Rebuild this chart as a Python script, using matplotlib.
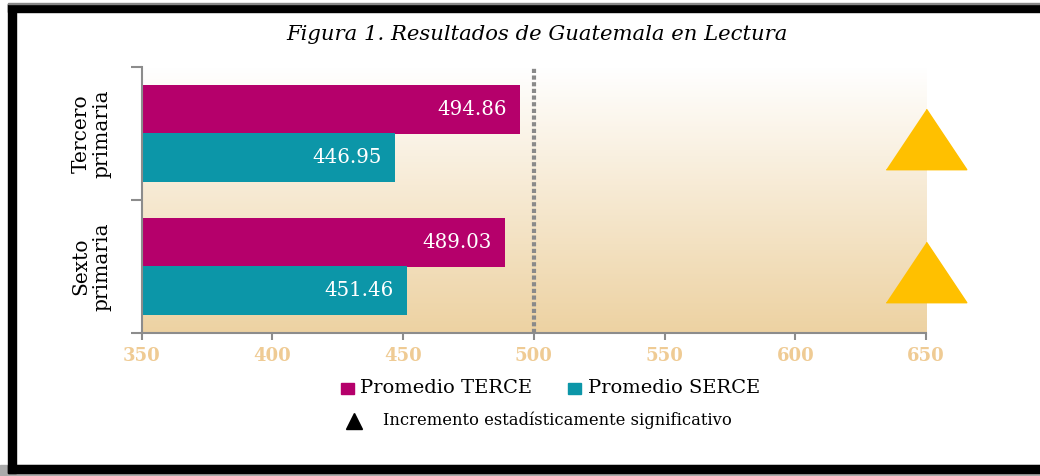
import matplotlib
matplotlib.use("Agg")
import matplotlib.pyplot as plt
import numpy as np
from matplotlib.patches import Rectangle
from matplotlib.colors import LinearSegmentedColormap

# ---- data ----
categories = ["Tercero\nprimaria", "Sexto\nprimaria"]
terce = [494.86, 489.03]
serce = [446.95, 451.46]
significant = [True, True]
series_names = ["Promedio TERCE", "Promedio SERCE"]
xticks = [350, 400, 450, 500, 550, 600, 650]
reference_line = 500
title = "Figura 1. Resultados de Guatemala en Lectura"
note = "Incremento estadísticamente significativo"

c_terce = "#B5006B"
c_serce = "#0C96A8"
c_tri = "#FFC000"
c_tick = "#EFCB94"
serif = ["DejaVu Serif", "Liberation Serif"]

W, H = 1040, 476
fig = plt.figure(figsize=(W / 100, H / 100), dpi=100)

def fx(px):
    return px / W

def fy(py):
    return 1 - py / H

# frame
fig.patches.append(Rectangle((0, fy(476)), 1, fy(465) - fy(476), transform=fig.transFigure, color="#AAAAAA", zorder=0))
fig.patches.append(Rectangle((fx(8), fy(473)), 1 - fx(8), fy(465) - fy(473), transform=fig.transFigure, color="black", zorder=1))
fig.patches.append(Rectangle((fx(8), fy(12)), 1 - fx(8), fy(4) - fy(12), transform=fig.transFigure, color="black", zorder=1))
fig.patches.append(Rectangle((fx(8), fy(473)), fx(16) - fx(8), fy(4) - fy(473), transform=fig.transFigure, color="black", zorder=1))
fig.patches.append(Rectangle((fx(8), fy(4)), 1 - fx(8), fy(3) - fy(4), transform=fig.transFigure, color="#888888", zorder=1))

left, right, top, bottom = 141.7, 926, 67, 333
ax = fig.add_axes([fx(left), fy(bottom), fx(right) - fx(left), fy(top) - fy(bottom)])

n = len(categories)
centers = np.arange(n)[::-1] + 0.5  # Tercero at top
bh = 0.365

# gradient background (white at top, tan at bottom)
cmap = LinearSegmentedColormap.from_list("bg", ["#FFFFFF", "#EDD2A2"])
grad = np.linspace(1, 0, 256).reshape(-1, 1)
ax.imshow(grad, extent=[xticks[0], xticks[-1], 0, n], aspect="auto", cmap=cmap,
          vmin=0, vmax=1, zorder=0, origin="lower")

ax.barh(centers + bh / 2, terce, height=bh, left=0, color=c_terce, zorder=2)
ax.barh(centers - bh / 2, serce, height=bh, left=0, color=c_serce, zorder=2)
ax.set_xlim(xticks[0], xticks[-1])
ax.set_ylim(0, n)

for c, t, s in zip(centers, terce, serce):
    ax.text(t - 5, c + bh / 2, f"{t:.2f}", ha="right", va="center", color="white",
            fontsize=14.2, family=serif, zorder=3)
    ax.text(s - 5, c - bh / 2, f"{s:.2f}", ha="right", va="center", color="white",
            fontsize=14.2, family=serif, zorder=3)

ax.axvline(reference_line, color="#8A8A8A", lw=3, ls=(0, (1, 0.6)), zorder=4)

tri = [(-1, -0.75), (1, -0.75), (0, 0.75)]
for c, sig in zip(centers, significant):
    if sig:
        ax.plot([xticks[-1]], [c - 0.04], marker=tri, markersize=58, color=c_tri,
                linestyle="none", clip_on=False, zorder=5)

for s in ["top", "right"]:
    ax.spines[s].set_visible(False)
for s in ["left", "bottom"]:
    ax.spines[s].set_color("#8C8C8C")
    ax.spines[s].set_linewidth(1.5)

ax.set_xticks(xticks)
ax.set_xticklabels([str(v) for v in xticks], color=c_tick, fontsize=13, fontweight="bold", family=serif)
ax.tick_params(axis="x", length=5, width=1.5, color="#8C8C8C", pad=5)
ax.set_yticks(np.arange(n + 1))
ax.set_yticklabels([])
ax.tick_params(axis="y", length=8, width=1.5, color="#8C8C8C")
for c, lab in zip(centers, categories):
    ax.text(-0.064, c, lab, transform=ax.get_yaxis_transform(), rotation=90, ha="center", va="center",
            fontsize=14.5, family=serif, linespacing=1.15)

fig.text(fx(537), fy(35), title, ha="center", va="center", fontsize=15.2, style="italic", family=serif)

# legend
fig.patches.append(Rectangle((fx(341), fy(394)), fx(13), fy(383) - fy(394), transform=fig.transFigure, color=c_terce))
fig.text(fx(360), fy(388), series_names[0], ha="left", va="center", fontsize=14, family=serif)
fig.patches.append(Rectangle((fx(568), fy(394)), fx(13), fy(383) - fy(394), transform=fig.transFigure, color=c_serce))
fig.text(fx(588), fy(388), series_names[1], ha="left", va="center", fontsize=14, family=serif)
fig.lines.append(plt.Line2D([fx(353.5)], [fy(420.5)], marker="^", markersize=12, color="black",
                            transform=fig.transFigure))
fig.text(fx(383), fy(420), note, ha="left", va="center", fontsize=11.8, family=serif)

fig.savefig("out.png", dpi=100)
